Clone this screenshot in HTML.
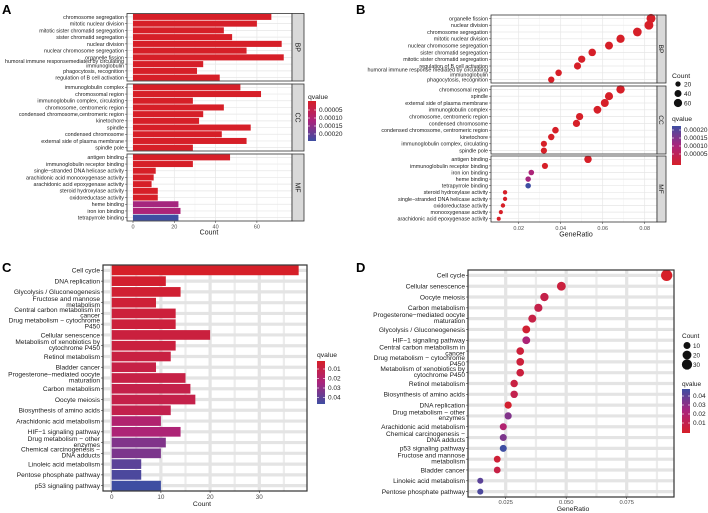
<!DOCTYPE html>
<html><head><meta charset="utf-8"><style>
html,body{margin:0;padding:0;background:#fff}
svg{display:block;font-family:"Liberation Sans",Arial,sans-serif}
</style></head><body>
<svg id="fig" width="708" height="513" viewBox="0 0 708 513" xmlns="http://www.w3.org/2000/svg">
<text x="2" y="14" font-size="13" font-weight="bold">A</text>
<text x="356" y="14" font-size="13" font-weight="bold">B</text>
<text x="2" y="272" font-size="13" font-weight="bold">C</text>
<text x="356" y="272" font-size="13" font-weight="bold">D</text>
</svg>
<script>
// ---------- data ----------
const aBPTerms=["chromosome segregation","mitotic nuclear division","mitotic sister chromatid segregation","sister chromatid segregation","nuclear division","nuclear chromosome segregation","organelle fission","humoral immune responsemediated by circulating|immunoglobulin","phagocytosis, recognition","regulation of B cell activation"];
const aBPCount=[67,60,44,48,72,55,73,34,31,42];
const aBPQ=[0.00001,0.00001,0.00001,0.00001,0.00001,0.00001,0.00001,0.00001,0.00001,0.00001];
const aCCTerms=["immunoglobulin complex","chromosomal region","immunoglobulin complex, circulating","chromosome, centromeric region","condensed chromosome,centromeric region","kinetochore","spindle","condensed chromosome","external side of plasma membrane","spindle pole"];
const aCCCount=[52,62,29,44,34,32,57,43,55,29];
const aCCQ=[0.00001,0.00001,0.00001,0.00001,0.00001,0.00001,0.00001,0.00001,0.00001,0.00001];
const aMFTerms=["antigen binding","immunoglobulin receptor binding","single−stranded DNA helicase activity","arachidonic acid monooxygenase activity","arachidonic acid epoxygenase activity","steroid hydroxylase activity","oxidoreductase activity","heme binding","iron ion binding","tetrapyrrole binding"];
const aMFCount=[47,29,11,10,9,12,12,22,23,22];
const aMFQ=[0.00001,0.00001,0.00001,0.00001,0.00001,0.00001,0.00001,0.00012,0.00011,0.00022];
const aTicks=[0,20,40,60];
const aQTicks=["0.00005","0.00010","0.00015","0.00020"];

const bBPTerms=["organelle fission","nuclear division","chromosome segregation","mitotic nuclear division","nuclear chromosome segregation","sister chromatid segregation","mitotic sister chromatid segregation","regulation of B cell activation","humoral immune response mediated by circulating|immunoglobulin","phagocytosis, recognition"];
const bBPRatio=[0.083,0.082,0.0765,0.0685,0.063,0.055,0.050,0.048,0.039,0.0355];
const bBPCount=[73,72,67,60,55,48,44,42,34,31];
const bBPQ=[0.00001,0.00001,0.00001,0.00001,0.00001,0.00001,0.00001,0.00001,0.00001,0.00001];
const bCCTerms=["chromosomal region","spindle","external side of plasma membrane","immunoglobulin complex","chromosome, centromeric region","condensed chromosome","condensed chromosome, centromeric region","kinetochore","immunoglobulin complex, circulating","spindle pole"];
const bCCRatio=[0.0685,0.063,0.061,0.0575,0.049,0.0475,0.0375,0.0355,0.032,0.032];
const bCCCount=[62,57,55,52,44,43,34,32,29,29];
const bCCQ=[0.00001,0.00001,0.00001,0.00001,0.00001,0.00001,0.00001,0.00001,0.00001,0.00001];
const bMFTerms=["antigen binding","immunoglobulin receptor binding","iron ion binding","heme binding","tetrapyrrole binding","steroid hydroxylase activity","single−stranded DNA helicase activity","oxidoreductase activity","monooxygenase activity","arachidonic acid epoxygenase activity"];
const bMFRatio=[0.053,0.0325,0.026,0.0245,0.0245,0.0135,0.0135,0.0125,0.0115,0.0105];
const bMFCount=[47,29,23,22,22,12,11,12,10,9];
const bMFQ=[0.00001,0.00001,0.00011,0.00012,0.00022,0.00001,0.00001,0.00001,0.00001,0.00001];
const bTicks=[0.02,0.04,0.06,0.08];
const bCountTicks=[20,40,60];
const bQTicks=["0.00020","0.00015","0.00010","0.00005"];

const cTerms=["Cell cycle","DNA replication","Glycolysis / Gluconeogenesis","Fructose and mannose|metabolism","Central carbon metabolism in|cancer","Drug metabolism − cytochrome|P450","Cellular senescence","Metabolism of xenobiotics by|cytochrome P450","Retinol metabolism","Bladder cancer","Progesterone−mediated oocyte|maturation","Carbon metabolism","Oocyte meiosis","Biosynthesis of amino acids","Arachidonic acid metabolism","HIF−1 signaling pathway","Drug metabolism − other|enzymes","Chemical carcinogenesis −|DNA adducts","Linoleic acid metabolism","Pentose phosphate pathway","p53 signaling pathway"];
const cCount=[38,11,14,9,13,13,20,13,12,9,15,16,17,12,10,14,11,10,6,6,10];
const cQ=[0.001,0.003,0.004,0.005,0.006,0.006,0.007,0.007,0.008,0.009,0.009,0.010,0.010,0.011,0.020,0.022,0.032,0.033,0.040,0.043,0.046];
const cTicks=[0,10,20,30];
const cQTicks=["0.01","0.02","0.03","0.04"];

const dTerms=["Cell cycle","Cellular senescence","Oocyte meiosis","Carbon metabolism","Progesterone−mediated oocyte|maturation","Glycolysis / Gluconeogenesis","HIF−1 signaling pathway","Central carbon metabolism in|cancer","Drug metabolism − cytochrome|P450","Metabolism of xenobiotics by|cytochrome P450","Retinol metabolism","Biosynthesis of amino acids","DNA replication","Drug metabolism − other|enzymes","Arachidonic acid metabolism","Chemical carcinogenesis −|DNA adducts","p53 signaling pathway","Fructose and mannose|metabolism","Bladder cancer","Linoleic acid metabolism","Pentose phosphate pathway"];
const dRatio=[0.0915,0.048,0.041,0.0385,0.036,0.0335,0.0335,0.031,0.031,0.031,0.0285,0.0285,0.026,0.026,0.024,0.024,0.024,0.0215,0.0215,0.0145,0.0145];
const dCount=[38,20,17,16,15,14,14,13,13,13,12,12,11,11,10,10,10,9,9,6,6];
const dQ=[0.001,0.007,0.010,0.010,0.009,0.004,0.022,0.006,0.006,0.007,0.008,0.011,0.003,0.032,0.020,0.033,0.046,0.005,0.009,0.040,0.043];
const dTicks=[0.025,0.050,0.075];
const dCountTicks=[10,20,30];
const dQTicks=["0.04","0.03","0.02","0.01"];

// ---------- helpers ----------
const svg=document.getElementById('fig');
const NS='http://www.w3.org/2000/svg';
function mk(tag,attrs,parent){const e=document.createElementNS(NS,tag);for(const k in attrs)e.setAttribute(k,attrs[k]);(parent||svg).appendChild(e);return e;}
function lerp(a,b,t){return a.map((v,i)=>Math.round(v+(b[i]-v)*t));}
const RED=[214,31,40],MID=[170,36,124],BLUE=[62,78,162];
function qcol(q,qmin,qmax){let t=(q-qmin)/(qmax-qmin);t=Math.max(0,Math.min(1,t));const c=t<0.5?lerp(RED,MID,t*2):lerp(MID,BLUE,(t-0.5)*2);return `rgb(${c[0]},${c[1]},${c[2]})`;}
function label(x,y,txt,fs,name){
  const parts=txt.split('|');
  const t=mk('text',{x:x,y:y,'font-size':fs,'text-anchor':'end',fill:'#1a1a1a'});
  
  
  if(parts.length===1){t.setAttribute('dy',fs*0.35);t.textContent=txt;}
  else{parts.forEach((p,i)=>{const s=mk('tspan',{x:x,dy:i===0?(-fs*0.25):fs*0.9},t);s.textContent=p;});}
  return t;
}
function gradBar(id,x,y,w,h,topRed,ticks,tickYs,name){
  const g=mk('linearGradient',{id:id,x1:0,y1:0,x2:0,y2:1},mk('defs',{}));
  const cols=topRed?[RED,MID,BLUE]:[BLUE,MID,RED];
  cols.forEach((c,i)=>mk('stop',{offset:(i*50)+'%','stop-color':`rgb(${c})`},g));
  const r=mk('rect',{x:x,y:y,width:w,height:h,fill:`url(#${id})`});
  
  
  ticks.forEach((t,i)=>{const tx=mk('text',{x:x+w+3,y:tickYs[i]+2,'font-size':6.5,fill:'#1a1a1a'});tx.textContent=t;
    mk('line',{x1:x,x2:x+2,y1:tickYs[i],y2:tickYs[i],stroke:'#fff','stroke-width':0.6});mk('line',{x1:x+w-2,x2:x+w,y1:tickYs[i],y2:tickYs[i],stroke:'#fff','stroke-width':0.6});});
}
function title(x,y,txt,fs,name,anchor){const t=mk('text',{x:x,y:y,'font-size':fs,'text-anchor':anchor||'start',fill:'#1a1a1a'});t.textContent=txt;return t;}

// ---------- panel A ----------
(function(){
  const x0=127,x1=292,xs=v=>133+v*(41.3/20);
  const facets=[[aBPTerms,aBPCount,aBPQ,13.5,81,'BP'],[aCCTerms,aCCCount,aCCQ,84,151,'CC'],[aMFTerms,aMFCount,aMFQ,154,221,'MF']];
  facets.forEach(([terms,cnt,q,t,b,lab])=>{
    mk('rect',{x:x0,y:t,width:x1-x0,height:b-t,fill:'#fff'});
    [10,30,50,70].forEach(v=>mk('line',{x1:xs(v),x2:xs(v),y1:t,y2:b,stroke:'#f2f2f2','stroke-width':0.5}));
    aTicks.forEach(v=>mk('line',{x1:xs(v),x2:xs(v),y1:t,y2:b,stroke:'#e6e6e6','stroke-width':0.7}));
    const step=(b-t)/terms.length;
    terms.forEach((term,i)=>{
      const cy=t+(i+0.5)*step;
      mk('line',{x1:x0,x2:x1,y1:cy,y2:cy,stroke:'#e6e6e6','stroke-width':0.7});
      const r=mk('rect',{x:xs(0),y:cy-step*0.45,width:xs(cnt[i])-xs(0),height:step*0.9,fill:qcol(q[i],0.00001,0.00022)});
      
      
      mk('line',{x1:x0-2,x2:x0,y1:cy,y2:cy,stroke:'#333','stroke-width':0.5});
      label(x0-3,cy,term,5.4,'term-label');
    });
    mk('rect',{x:x0,y:t,width:x1-x0,height:b-t,fill:'none',stroke:'#333','stroke-width':0.8});
    const s=mk('rect',{x:x1,y:t,width:12,height:b-t,fill:'#d9d9d9',stroke:'#333','stroke-width':0.8});
    
    const st=mk('text',{x:x1+6,y:(t+b)/2,'font-size':7,fill:'#1a1a1a','text-anchor':'middle',transform:`rotate(90 ${x1+6} ${(t+b)/2})`,dy:2.5});st.textContent=lab;
  });
  aTicks.forEach(v=>{mk('line',{x1:xs(v),x2:xs(v),y1:221,y2:223,stroke:'#333','stroke-width':0.5});const tt=title(xs(v),228.5,String(v),5.5,'x-tick','middle');tt.setAttribute('fill','#4d4d4d');});
  title(209,234.5,'Count',7,'x-axis-title','middle');
  title(308,99,'qvalue',6.8,'legend-title');
  gradBar('ga',308,101,8,40,true,aQTicks,[110,118,126,134],'qvalue-colorbar');
})();

// ---------- panel B ----------
(function(){
  const OX=354;
  const x0=OX+137,x1=OX+303,xs=v=>OX+122.7+v*(42/0.02);
  const facets=[[bBPTerms,bBPRatio,bBPCount,bBPQ,15,83,'BP'],[bCCTerms,bCCRatio,bCCCount,bCCQ,86,154,'CC'],[bMFTerms,bMFRatio,bMFCount,bMFQ,156,222,'MF']];
  const rad=c=>0.65+0.45*Math.sqrt(c);
  facets.forEach(([terms,ratio,cnt,q,t,b,lab])=>{
    mk('rect',{x:x0,y:t,width:x1-x0,height:b-t,fill:'#fff'});
    [0.03,0.05,0.07].forEach(v=>mk('line',{x1:xs(v),x2:xs(v),y1:t,y2:b,stroke:'#f2f2f2','stroke-width':0.5}));
    bTicks.forEach(v=>mk('line',{x1:xs(v),x2:xs(v),y1:t,y2:b,stroke:'#e6e6e6','stroke-width':0.7}));
    const step=(b-t)/terms.length;
    terms.forEach((term,i)=>{
      const cy=t+(i+0.5)*step;
      mk('line',{x1:x0,x2:x1,y1:cy,y2:cy,stroke:'#e6e6e6','stroke-width':0.7});
      mk('line',{x1:x0-2,x2:x0,y1:cy,y2:cy,stroke:'#333','stroke-width':0.5});
      label(x0-3,cy,term,5.4,'term-label');
    });
    terms.forEach((term,i)=>{
      const cy=t+(i+0.5)*step;
      const c=mk('circle',{cx:xs(ratio[i]),cy:cy,r:rad(cnt[i]),fill:qcol(q[i],0.00001,0.00022)});
      
      
    });
    mk('rect',{x:x0,y:t,width:x1-x0,height:b-t,fill:'none',stroke:'#333','stroke-width':0.8});
    const s=mk('rect',{x:x1,y:t,width:9,height:b-t,fill:'#d9d9d9',stroke:'#333','stroke-width':0.8});
    
    const st=mk('text',{x:x1+4.5,y:(t+b)/2,'font-size':6.5,fill:'#1a1a1a','text-anchor':'middle',transform:`rotate(90 ${x1+4.5} ${(t+b)/2})`,dy:2.3});st.textContent=lab;
  });
  bTicks.forEach(v=>{mk('line',{x1:xs(v),x2:xs(v),y1:222,y2:224,stroke:'#333','stroke-width':0.5});const tt=title(xs(v),230,v.toFixed(2),5.5,'x-tick','middle');tt.setAttribute('fill','#4d4d4d');});
  title(576,236.5,'GeneRatio',7,'x-axis-title','middle');
  title(OX+318,78,'Count',6.8,'size-legend-title');
  [84,93.5,103].forEach((y,i)=>{const c=mk('circle',{cx:OX+324,cy:y,r:rad(bCountTicks[i]),fill:'#111'});title(OX+330,y+2.3,String(bCountTicks[i]),6.5,'size-legend-label');});
  title(OX+318,121,'qvalue',6.8,'legend-title');
  gradBar('gb',OX+318,126,9,39,false,bQTicks,[130,138,146,154],'qvalue-colorbar');
})();

// ---------- panel C ----------
(function(){
  const x0=103,x1=307,t=265,b=491,xs=v=>111.7+v*(49.2/10);
  mk('rect',{x:x0,y:t,width:x1-x0,height:b-t,fill:'#fff'});
  [5,15,25,35].forEach(v=>mk('line',{x1:xs(v),x2:xs(v),y1:t,y2:b,stroke:'#ececec','stroke-width':2.2}));
  cTicks.forEach(v=>mk('line',{x1:xs(v),x2:xs(v),y1:t,y2:b,stroke:'#e4e4e4','stroke-width':3.2}));
  const step=(b-t)/cTerms.length;
  cTerms.forEach((term,i)=>{const cy=t+(i+0.5)*step;mk('line',{x1:x0,x2:x1,y1:cy,y2:cy,stroke:'#e4e4e4','stroke-width':3.2});});
  cTerms.forEach((term,i)=>{
    const cy=t+(i+0.5)*step;
    const r=mk('rect',{x:xs(0),y:cy-step*0.45,width:xs(cCount[i])-xs(0),height:step*0.9,fill:qcol(cQ[i],0.001,0.046)});
    
    
    mk('line',{x1:x0-2,x2:x0,y1:cy,y2:cy,stroke:'#333','stroke-width':0.6});
    label(x0-3,cy,term,6.6,'term-label');
  });
  mk('rect',{x:x0,y:t,width:x1-x0,height:b-t,fill:'none',stroke:'#333','stroke-width':1.2});
  cTicks.forEach(v=>{mk('line',{x1:xs(v),x2:xs(v),y1:b,y2:b+2,stroke:'#333','stroke-width':0.6});const tt=title(xs(v),499,String(v),6.3,'x-tick','middle');tt.setAttribute('fill','#4d4d4d');});
  title(202,506,'Count',6.8,'x-axis-title','middle');
  title(317,357,'qvalue',6.8,'legend-title');
  gradBar('gc',317,361,8,43,true,cQTicks,[369,378.5,388,397.5],'qvalue-colorbar');
})();

// ---------- panel D ----------
(function(){
  const x0=468,x1=674,t=270,b=497,xs=v=>445.2+v*(60.5/0.025);
  const rad=c=>1.3+0.7*Math.sqrt(c);
  mk('rect',{x:x0,y:t,width:x1-x0,height:b-t,fill:'#fff'});
  [0.0375,0.0625,0.0875].forEach(v=>mk('line',{x1:xs(v),x2:xs(v),y1:t,y2:b,stroke:'#ececec','stroke-width':2.2}));
  dTicks.forEach(v=>mk('line',{x1:xs(v),x2:xs(v),y1:t,y2:b,stroke:'#e4e4e4','stroke-width':3.2}));
  const step=(b-t)/dTerms.length;
  dTerms.forEach((term,i)=>{const cy=t+(i+0.5)*step;mk('line',{x1:x0,x2:x1,y1:cy,y2:cy,stroke:'#e4e4e4','stroke-width':3.2});
    mk('line',{x1:x0-2,x2:x0,y1:cy,y2:cy,stroke:'#333','stroke-width':0.6});
    label(x0-3,cy,term,6.6,'term-label');});
  dTerms.forEach((term,i)=>{
    const cy=t+(i+0.5)*step;
    const c=mk('circle',{cx:xs(dRatio[i]),cy:cy,r:rad(dCount[i]),fill:qcol(dQ[i],0.001,0.046)});
    
    
  });
  mk('rect',{x:x0,y:t,width:x1-x0,height:b-t,fill:'none',stroke:'#333','stroke-width':1.2});
  dTicks.forEach(v=>{mk('line',{x1:xs(v),x2:xs(v),y1:b,y2:b+2,stroke:'#333','stroke-width':0.6});const tt=title(xs(v),504,v.toFixed(3),5.8,'x-tick','middle');tt.setAttribute('fill','#4d4d4d');});
  title(573,511,'GeneRatio',6.8,'x-axis-title','middle');
  title(682,338,'Count',6.5,'size-legend-title');
  [345.5,355,364.5].forEach((y,i)=>{const c=mk('circle',{cx:687,cy:y,r:rad(dCountTicks[i]),fill:'#111'});title(693,y+2.3,String(dCountTicks[i]),6.3,'size-legend-label');});
  title(682,386,'qvalue',6.5,'legend-title');
  gradBar('gd',682,389,8,44,false,dQTicks,[396,405,414,423],'qvalue-colorbar');
})();
</script>
</body></html>
